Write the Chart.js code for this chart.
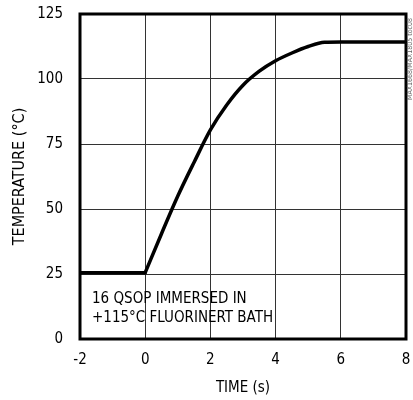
<!DOCTYPE html>
<html>
<head>
<meta charset="utf-8">
<script src="https://cdn.jsdelivr.net/npm/chart.js@4.4.1/dist/chart.umd.min.js"></script>
<style>
  body { margin: 0; background: #fff; }
  #wrap { width: 413px; height: 400px; }
</style>
</head>
<body>
<div id="wrap"><canvas id="chart" width="413" height="400"></canvas></div>
<script>
// thermal step response
const times = [-2, 0, 0.5, 1, 1.5, 2, 2.5, 3, 3.5, 4, 4.5, 5, 5.5, 6, 7, 8];
const temps = [25.5, 25.5, 40.5, 55, 68, 80.4, 90, 97.6, 103, 107, 110, 112.5, 114.1, 114.2, 114.2, 114.2];
const stepIndex = 1; // part is dropped into the bath at t = 0
const xTicks = [-2, 0, 2, 4, 6, 8];
const yTicks = [0, 25, 50, 75, 100, 125];
const noteLines = ["16 QSOP IMMERSED IN", "+115°C FLUORINERT BATH"];

const FONT = "'Liberation Sans Narrow', 'DejaVu Sans Condensed', sans-serif";

const pts = times.map((t, i) => ({ x: t, y: temps[i] }));

// drop the automatic label overhang so layout.padding sets the plot box
const noPad = (s) => {
	s.paddingTop = 0;
	s.paddingBottom = 0;
	s.paddingLeft = 0;
	s.paddingRight = 0;
};

// frame + note text
const extras = {
	id: "extras",
	afterDatasetsDraw(chart) {
		const { ctx, chartArea } = chart;
		ctx.save();
		ctx.fillStyle = "#000";
		ctx.font = "15px " + FONT;
		ctx.textBaseline = "middle";
		ctx.textAlign = "left";
		ctx.fillText(noteLines[0], chartArea.left + 12, chartArea.bottom - 40);
		ctx.fillText(noteLines[1], chartArea.left + 12, chartArea.bottom - 21);

		ctx.lineWidth = 3;
		ctx.strokeStyle = "#000";
		ctx.strokeRect(chartArea.left, chartArea.top, chartArea.right - chartArea.left, chartArea.bottom - chartArea.top);

		// side id label
		ctx.translate(410, 100);
		ctx.rotate(-Math.PI / 2);
		ctx.font = "7px " + FONT;
		ctx.fillStyle = "#666";
		ctx.textAlign = "left";
		ctx.fillText("MAX1668/MAX1805 toc08", 0, 0);
		ctx.restore();
	},
};

const lineStyle = {
	borderColor: "#000",
	borderWidth: 3.5,
	pointRadius: 0,
	fill: false,
	borderCapStyle: "round",
	borderJoinStyle: "round",
};

new Chart(document.getElementById("chart").getContext("2d"), {
	type: "line",
	data: {
		datasets: [
			// flat part before immersion
			{ ...lineStyle, data: pts.slice(0, stepIndex + 1), tension: 0 },
			// heating curve
			{ ...lineStyle, data: pts.slice(stepIndex), cubicInterpolationMode: "monotone" },
		],
	},
	options: {
		responsive: false,
		animation: false,
		layout: { padding: { left: 0, right: 7, top: 14, bottom: 0 } },
		plugins: { legend: { display: false }, tooltip: { enabled: false } },
		scales: {
			x: {
				type: "linear",
				min: -2,
				max: 8,
				afterBuildTicks: (s) => { s.ticks = xTicks.map((v) => ({ value: v })); },
				afterFit: (s) => { s.height = 61; noPad(s); },
				grid: { color: "#333", lineWidth: 1, drawTicks: false },
				border: { display: false },
				ticks: { color: "#000", padding: 12, font: { size: 15, family: FONT } },
				title: {
					display: true,
					text: "TIME (s)",
					color: "#000",
					padding: { top: 0, bottom: 3 },
					font: { size: 15, family: FONT },
				},
			},
			y: {
				min: 0,
				max: 125,
				afterBuildTicks: (s) => { s.ticks = yTicks.map((v) => ({ value: v })); },
				afterFit: (s) => { s.width = 80; noPad(s); },
				grid: { color: "#333", lineWidth: 1, drawTicks: false },
				border: { display: false },
				ticks: { color: "#000", padding: 17, font: { size: 15, family: FONT } },
				title: {
					display: true,
					text: "TEMPERATURE (°C)",
					color: "#000",
					padding: { top: 10, bottom: 0 },
					font: { size: 16, family: FONT },
				},
			},
		},
	},
	plugins: [extras],
});
</script>
</body>
</html>
